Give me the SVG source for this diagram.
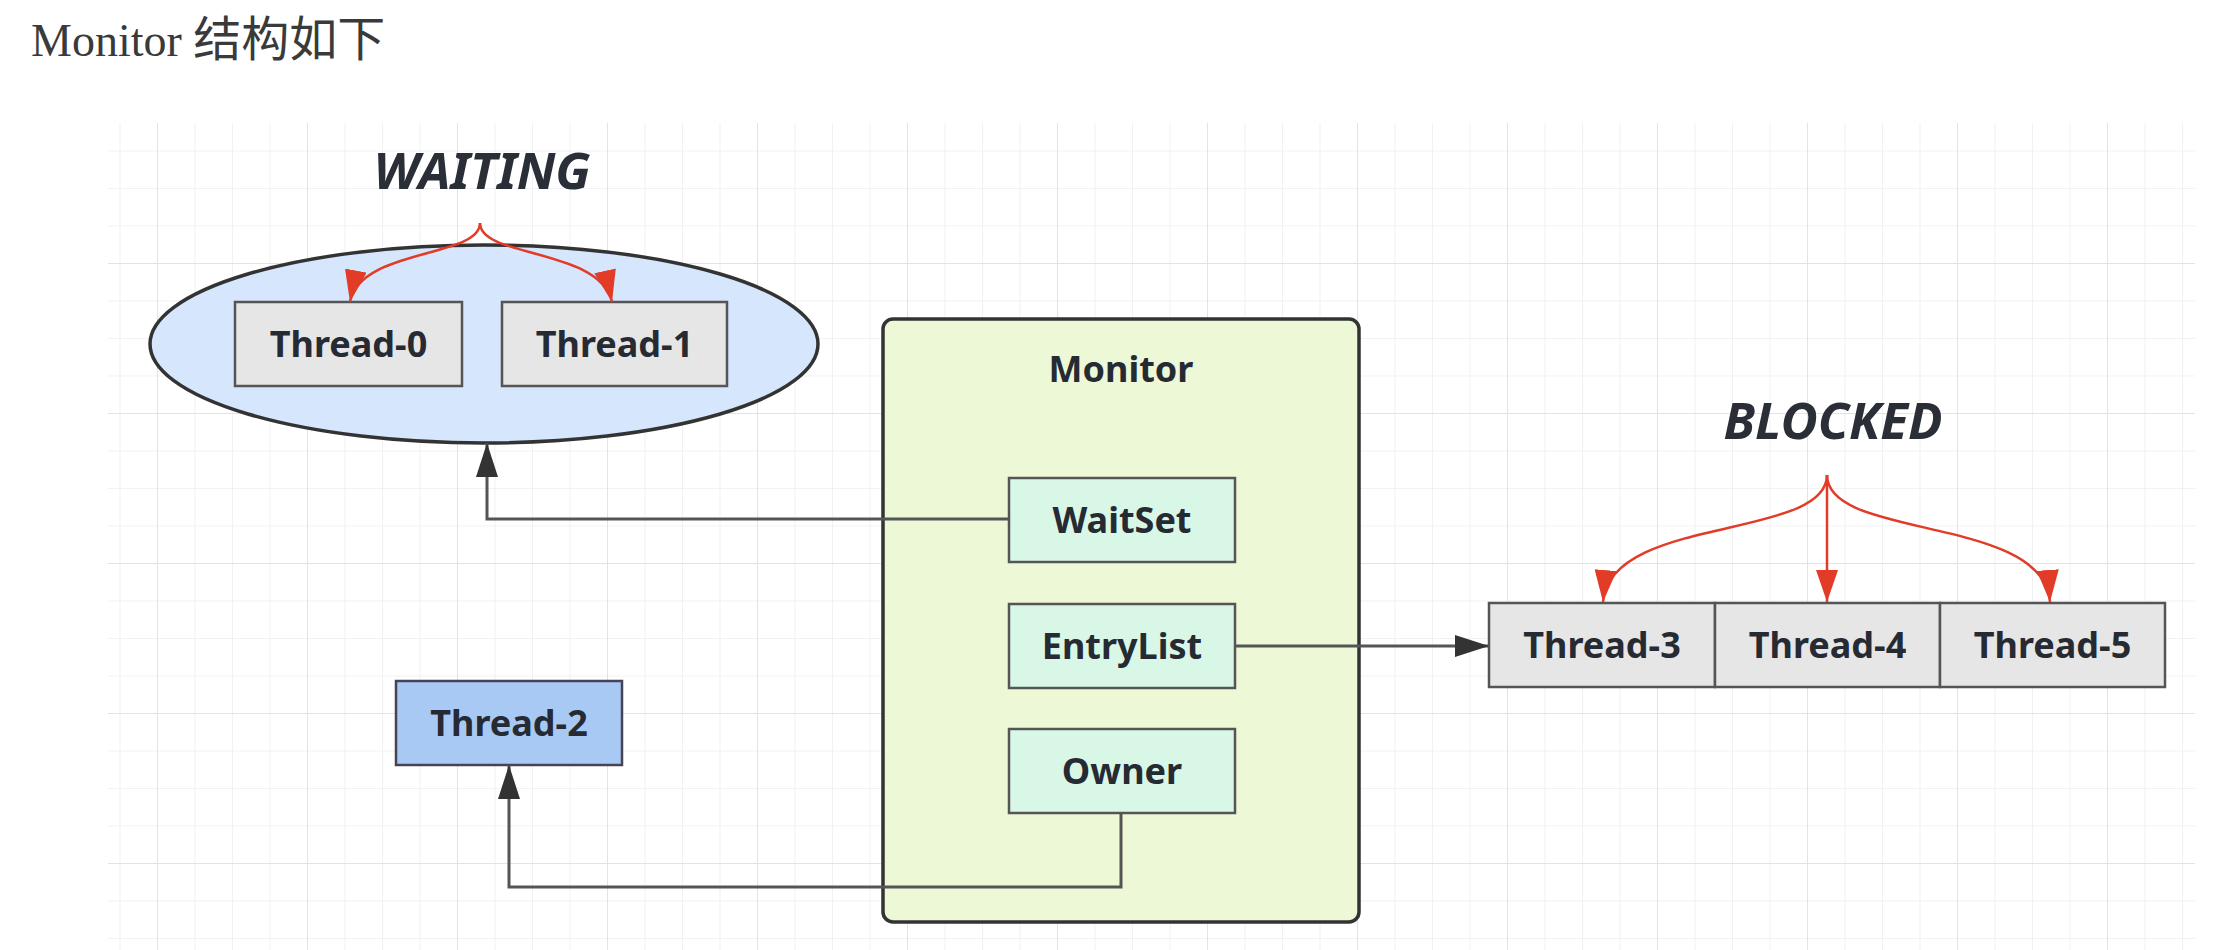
<svg xmlns="http://www.w3.org/2000/svg" width="2220" height="950" viewBox="0 0 2220 950">
<style>
  .lbl { font-family: "Noto Sans", "Open Sans", sans-serif; font-weight: bold; font-size: 36px; fill: #262a33; text-anchor: middle; }
  .state { font-family: "Noto Sans", "Open Sans", sans-serif; font-weight: bold; font-style: italic; font-size: 51px; fill: #2a2e36; text-anchor: middle; }
  .thr { fill: #e6e6e6; stroke: #555; stroke-width: 2.5; }
  .inner { fill: #d9f7e7; stroke: #555; stroke-width: 2.5; }
  .conn { fill: none; stroke: #555; stroke-width: 3; }
  .red { fill: none; stroke: #e23b27; stroke-width: 2.5; }
</style>
<defs>
  <pattern id="gMinor" patternUnits="userSpaceOnUse" x="7" y="0.5" width="37.5" height="37.5">
    <path d="M0,0 V37.5 M0,0 H37.5" fill="none" stroke="#eceef2" stroke-width="1.6"/>
  </pattern>
  <pattern id="gMajor" patternUnits="userSpaceOnUse" x="7" y="113" width="150" height="150">
    <path d="M0,0 V150 M0,0 H150" fill="none" stroke="#e0e3e8" stroke-width="2"/>
  </pattern>
  <marker id="arrBlack" markerUnits="userSpaceOnUse" markerWidth="34" markerHeight="22" refX="34" refY="11" orient="auto">
    <path d="M0,0 L34,11 L0,22 z" fill="#333"/>
  </marker>
  <marker id="arrRed" markerUnits="userSpaceOnUse" markerWidth="32" markerHeight="22" refX="32" refY="11" orient="auto">
    <path d="M0,0 L32,11 L0,22 z" fill="#e23b27"/>
  </marker>
</defs>
<rect x="0" y="0" width="2220" height="950" fill="#ffffff"/>
<text x="31" y="56" font-size="46" fill="#3a3a3a"><tspan font-family="Liberation Serif, serif">Monitor </tspan><tspan font-family="Noto Sans CJK SC, sans-serif" font-size="48">结构如下</tspan></text>
<g id="grid">
  <rect x="108" y="123" width="2087" height="827" fill="url(#gMinor)"/>
  <rect x="108" y="123" width="2087" height="827" fill="url(#gMajor)"/>
</g>
<g id="waiting-set">
  <ellipse cx="484" cy="344" rx="334" ry="99" fill="#d6e6fc" stroke="#333" stroke-width="3.5"/>
  <text class="state" x="482" y="189">WAITING</text>
</g>
<g id="thread-0">
  <rect class="thr" x="235" y="302" width="227" height="84"/>
  <text class="lbl" x="348.5" y="357">Thread-0</text>
</g>
<g id="thread-1">
  <rect class="thr" x="502" y="302" width="225" height="84"/>
  <text class="lbl" x="614.5" y="357">Thread-1</text>
</g>
<g id="monitor">
  <rect x="883" y="319" width="476" height="603" rx="10" ry="10" fill="#edf8d6" stroke="#333" stroke-width="3.5"/>
  <text class="lbl" x="1121" y="382">Monitor</text>
</g>
<g id="waitset">
  <rect class="inner" x="1009" y="478" width="226" height="84"/>
  <text class="lbl" x="1122" y="533">WaitSet</text>
</g>
<g id="entrylist">
  <rect class="inner" x="1009" y="604" width="226" height="84"/>
  <text class="lbl" x="1122" y="659">EntryList</text>
</g>
<g id="owner">
  <rect class="inner" x="1009" y="729" width="226" height="84"/>
  <text class="lbl" x="1122" y="784">Owner</text>
</g>
<g id="thread-2">
  <rect x="396" y="681" width="226" height="84" fill="#a9c9f5" stroke="#445" stroke-width="2.5"/>
  <text class="lbl" x="509" y="736">Thread-2</text>
</g>
<g id="blocked-list">
  <text class="state" x="1833" y="439">BLOCKED</text>
  <rect class="thr" x="1489" y="603" width="226" height="84"/>
  <rect class="thr" x="1715" y="603" width="225" height="84"/>
  <rect class="thr" x="1940" y="603" width="225" height="84"/>
  <text class="lbl" x="1602" y="658">Thread-3</text>
  <text class="lbl" x="1827.5" y="658">Thread-4</text>
  <text class="lbl" x="2052.5" y="658">Thread-5</text>
</g>
<g id="connectors">
  <path class="conn" d="M1009,519 H487 V443" marker-end="url(#arrBlack)"/>
  <path class="conn" d="M1235,646 H1489" marker-end="url(#arrBlack)"/>
  <path class="conn" d="M1121,813 V887 H509 V765" marker-end="url(#arrBlack)"/>
  <path class="red" d="M480,223 C480,258 360,248 350,302" marker-end="url(#arrRed)"/>
  <path class="red" d="M480,223 C480,258 600,248 612,302" marker-end="url(#arrRed)"/>
  <path class="red" d="M1827,475 C1827,540 1610,515 1603,602" marker-end="url(#arrRed)"/>
  <path class="red" d="M1827,475 V602" marker-end="url(#arrRed)"/>
  <path class="red" d="M1827,475 C1827,540 2044,515 2050,602" marker-end="url(#arrRed)"/>
</g>
</svg>
